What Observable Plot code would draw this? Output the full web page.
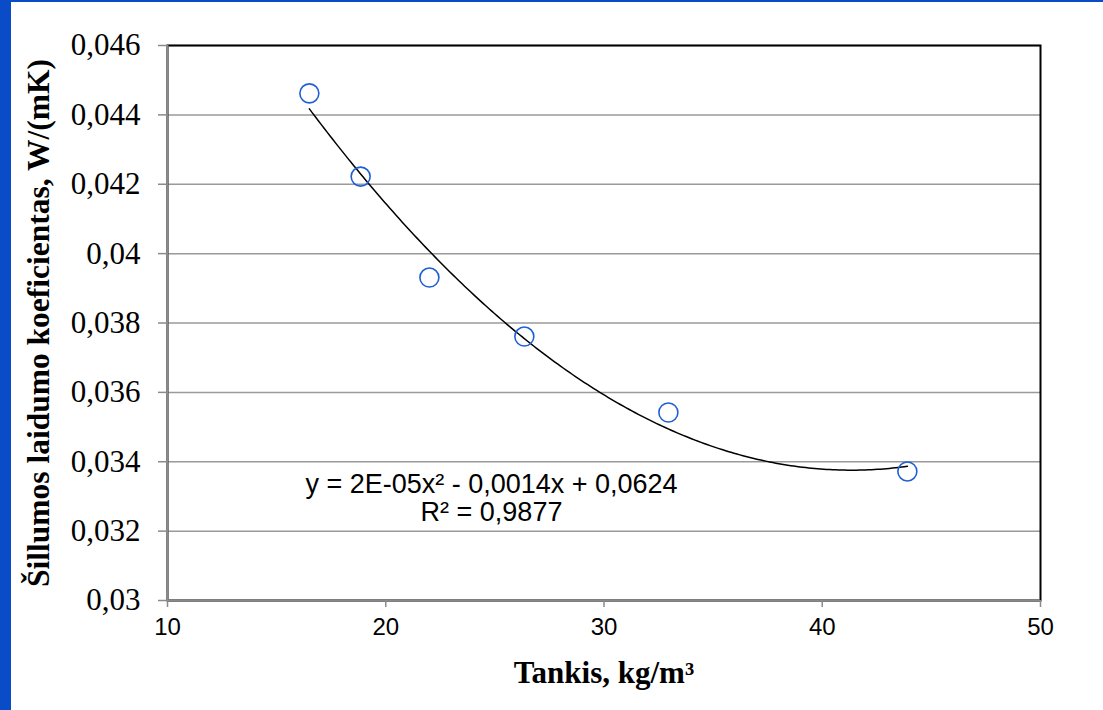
<!DOCTYPE html>
<html>
<head>
<meta charset="utf-8">
<script src="https://cdn.jsdelivr.net/npm/d3@7"></script>
<script src="https://cdn.jsdelivr.net/npm/@observablehq/plot@0.6"></script>
<style>
  html, body { margin: 0; padding: 0; background: #fff; }
  #wrap { position: relative; width: 1103px; height: 710px; overflow: hidden; }
  #stripe { position: absolute; left: 0; top: 0; width: 11px; height: 710px; background: #0a4bc8; }
  #topline { position: absolute; left: 0; top: 0; width: 1103px; height: 2px; background: #0a4bc8; }
  #chart { position: absolute; left: 0; top: 0; }
  g[aria-label="y-axis tick label"] text { font-family: 'Liberation Serif', 'Times New Roman', serif; }
  g[aria-label="x-axis tick label"] text { font-family: 'Liberation Sans', Arial, sans-serif; }
</style>
</head>
<body>
<div id="wrap"><div id="chart"></div><div id="stripe"></div><div id="topline"></div></div>
<script>
// Data
const density = [16.5, 18.85, 22.0, 26.35, 32.95, 43.9];
const conductivity = [0.04462, 0.04222, 0.03931, 0.03761, 0.03542, 0.03372];

const xTicks = [10, 20, 30, 40, 50];
const yTicks = [0.030, 0.032, 0.034, 0.036, 0.038, 0.040, 0.042, 0.044, 0.046];
const yTickLabels = ["0,03", "0,032", "0,034", "0,036", "0,038", "0,04", "0,042", "0,044", "0,046"];

const xTitle = "Tankis, kg/m³";
const yTitle = "Šillumos laidumo koeficientas, W/(mK)";
const eqLine1 = "y = 2E-05x² - 0,0014x + 0,0624";
const eqLine2 = "R² = 0,9877";

const points = density.map((d, i) => ({x: d, y: conductivity[i]}));

// Least-squares 2nd order polynomial trendline (as in the source chart)
function polyFit2(xs, ys) {
  let n = xs.length, s = [0,0,0,0,0], t = [0,0,0];
  for (let i = 0; i < n; i++) {
    let p = 1;
    for (let k = 0; k < 5; k++) { s[k] += p; if (k < 3) t[k] += p * ys[i]; p *= xs[i]; }
  }
  const A = [[s[0], s[1], s[2], t[0]], [s[1], s[2], s[3], t[1]], [s[2], s[3], s[4], t[2]]];
  for (let c = 0; c < 3; c++) {
    let piv = c;
    for (let r = c + 1; r < 3; r++) if (Math.abs(A[r][c]) > Math.abs(A[piv][c])) piv = r;
    [A[c], A[piv]] = [A[piv], A[c]];
    for (let r = 0; r < 3; r++) if (r !== c) {
      const f = A[r][c] / A[c][c];
      for (let k = c; k < 4; k++) A[r][k] -= f * A[c][k];
    }
  }
  return [A[0][3] / A[0][0], A[1][3] / A[1][1], A[2][3] / A[2][2]];
}
const [c0, c1, c2] = polyFit2(density, conductivity);
const xMin = d3.min(density), xMax = d3.max(density);
const trend = d3.range(0, 201).map(i => {
  const x = xMin + (xMax - xMin) * i / 200;
  return {x, y: c0 + c1 * x + c2 * x * x};
});

const serif = "Liberation Serif";
const sans = "Liberation Sans";

const chart = Plot.plot({
  width: 1103,
  height: 710,
  marginLeft: 167,
  marginRight: 63,
  marginTop: 45,
  marginBottom: 110,
  style: {background: "transparent", color: "#000"},
  x: {domain: [10, 50], axis: null},
  y: {domain: [0.03, 0.046], axis: null},
  marks: [
    Plot.gridY(yTicks, {stroke: "#9a9a9a", strokeOpacity: 1, strokeWidth: 1.5}),
    Plot.frame({stroke: "#000", strokeWidth: 2}),
    Plot.ruleX([10], {stroke: "#8a8a8a", strokeWidth: 2}),
    Plot.ruleY([0.03], {stroke: "#8a8a8a", strokeWidth: 2}),
    Plot.axisY(yTicks, {
      tickSize: 9, tickPadding: 18, stroke: "#8a8a8a", strokeWidth: 1.5,
      tickFormat: (d) => yTickLabels[yTicks.indexOf(d)],
      fontSize: 31, fontFamily: serif, fill: "#000", label: null
    }),
    Plot.axisX(xTicks, {
      tickSize: 7, tickPadding: 10, stroke: "#8a8a8a", strokeWidth: 1.5,
      fontSize: 24, fontFamily: sans, fill: "#000", label: null
    }),
    Plot.line(trend, {x: "x", y: "y", stroke: "#000", strokeWidth: 1.5}),
    Plot.dot(points, {x: "x", y: "y", r: 9.5, stroke: "#1f5fd6", strokeWidth: 1.6, fill: "none"}),
    Plot.text([eqLine1], {frameAnchor: "bottom-left", dx: 324, dy: -116, textAnchor: "middle", lineAnchor: "middle", fontSize: 27, fontFamily: sans, fill: "#000"}),
    Plot.text([eqLine2], {frameAnchor: "bottom-left", dx: 324, dy: -88, textAnchor: "middle", lineAnchor: "middle", fontSize: 27, fontFamily: sans, fill: "#000"}),
    Plot.text([xTitle], {frameAnchor: "bottom", dy: 73, textAnchor: "middle", lineAnchor: "middle", fontSize: 31, fontWeight: "bold", fontFamily: serif, fill: "#000"}),
    Plot.text([yTitle], {frameAnchor: "left", dx: -129, rotate: -90, textAnchor: "middle", lineAnchor: "middle", fontSize: 31.5, fontWeight: "bold", fontFamily: serif, fill: "#000"})
  ]
});
document.getElementById("chart").appendChild(chart);
</script>
</body>
</html>
